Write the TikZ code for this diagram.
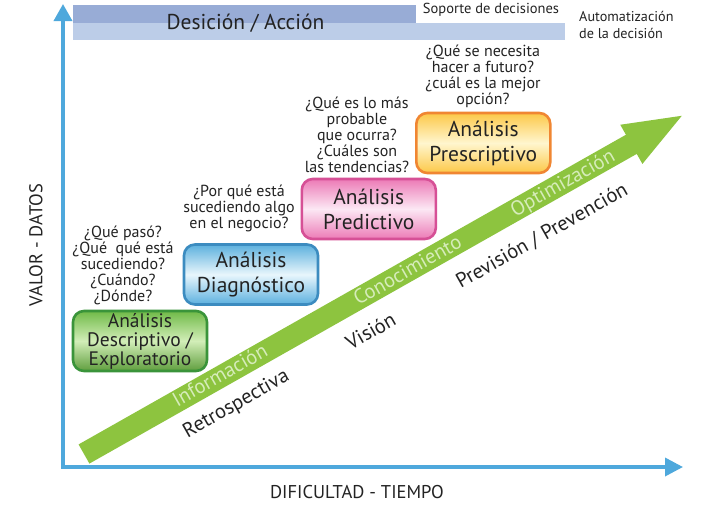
\documentclass[tikz,border=0pt]{standalone}
\usepackage{fontspec}
\setmainfont{PT Sans}
\usetikzlibrary{arrows.meta}
\definecolor{axisblue}{RGB}{78,168,220}
\definecolor{bardark}{RGB}{152,172,214}
\definecolor{barlight}{RGB}{188,205,232}
\definecolor{bandgreen}{RGB}{141,196,63}
\definecolor{bandtext}{RGB}{214,236,186}
\definecolor{txt}{RGB}{35,35,35}
\definecolor{gB}{RGB}{58,148,58}\definecolor{gT}{RGB}{112,186,72}\definecolor{gM}{RGB}{210,238,184}
\definecolor{bB}{RGB}{60,140,192}\definecolor{bT}{RGB}{92,176,222}\definecolor{bM}{RGB}{232,246,252}
\definecolor{pB}{RGB}{214,80,150}\definecolor{pT}{RGB}{236,122,182}\definecolor{pM}{RGB}{252,232,244}
\definecolor{oB}{RGB}{240,134,50}\definecolor{oT}{RGB}{252,200,72}\definecolor{oM}{RGB}{255,246,206}
\begin{document}
\begin{tikzpicture}[x=1pt,y=-1pt,
  anbox/.style={draw, line width=2.6pt, rounded corners=11pt, minimum width=134pt,
    minimum height=60pt, align=center, inner sep=0pt, text=txt},
  boxtwo/.style={anbox, font=\fontsize{21.5}{25}\selectfont},
  boxthree/.style={anbox, font=\fontsize{19.5}{19}\selectfont},
  question/.style={align=center, text=txt, font=\fontsize{16}{16}\selectfont, inner sep=0pt},
  axisline/.style={draw=axisblue, line width=3.5pt, {Triangle[length=17pt,width=18pt]}-{Triangle[length=18pt,width=18pt]}},
  bandlabel/.style={text=bandtext, font=\fontsize{20.5}{20.5}\selectfont, rotate=29.5, inner sep=0pt},
  blacklabel/.style={text=txt, font=\fontsize{20.5}{20.5}\selectfont, rotate=29.5, inner sep=0pt},
  axislabel/.style={text=txt, font=\fontsize{18.5}{18.5}\selectfont, inner sep=0pt}
]
\useasboundingbox (0,0) rectangle (712,506);
\fill[white] (0,0) rectangle (712,506);

% top bars
\fill[bardark] (73,5) rectangle (416,22.7);
\fill[barlight] (73,22.7) rectangle (565,40);
\node[text=txt, font=\fontsize{21.5}{21.5}\selectfont, inner sep=0pt] (dec) at (245.5,23) {Desición / Acción};
\node[text=txt, font=\fontsize{14.5}{14.5}\selectfont, inner sep=0pt] (sop) at (491,10) {Soporte de decisiones};
\node[text=txt, font=\fontsize{14.2}{16.5}\selectfont, align=left, inner sep=0pt, anchor=west] (auto) at (579,25) {Automatización\\de la decisión};

% axes
\coordinate (ytop) at (63,4);
\coordinate (O) at (63,467);
\coordinate (xend) at (683,467);
\draw[axisline, line join=miter] (ytop) -- (O) -- (xend);
\node[axislabel, rotate=90] (vlab) at (36,245) {VALOR - DATOS};
\node[axislabel] (hlab) at (357,492) {DIFICULTAD - TIEMPO};

% green arrow
\begin{scope}[shift={(84,454)}, rotate=29.5]
  \fill[bandgreen] (0,-11) -- (628.9,-11) -- (628.9,-22.5) -- (686.9,0)
     -- (628.9,22.5) -- (628.9,11) -- (0,11) -- cycle;
  \node[bandlabel] (inf) at (157,-2) {Información};
  \node[bandlabel] (con) at (372,-1) {Conocimiento};
  \node[bandlabel] (opt) at (550,1) {Optimización};
  \node[blacklabel] (ret) at (157,32) {Retrospectiva};
  \node[blacklabel] (vis) at (310,34) {Visión};
  \node[blacklabel] (pre) at (506,36) {Previsión / Prevención};
\end{scope}

% boxes
\node[boxthree, draw=gB, top color=gT, bottom color=gT!85!black, middle color=gM] (desc) at (140,341)
  {Análisis\\Descriptivo /\\Exploratorio};
\node[boxtwo, draw=bB, top color=bT, bottom color=bT, middle color=bM] (diag) at (251,274.5)
  {Análisis\\Diagnóstico};
\node[boxtwo, draw=pB, top color=pT, bottom color=pT, middle color=pM] (pred) at (368.8,209)
  {Análisis\\Predictivo};
\node[boxtwo, draw=oB, top color=oT, bottom color=oT, middle color=oM] (pres) at (483.3,143)
  {Análisis\\Prescriptivo};

% questions
\node[question] (q1) at (123,265) {¿Qué pasó?\\¿Qué~ qué está\\sucediendo?\\¿Cuándo?\\¿Dónde?};
\node[question] (q2) at (239,208) {¿Por qué está\\sucediendo algo\\en el negocio?};
\node[question] (q3) at (357,134.5) {¿Qué es lo más\\probable\\que ocurra?\\¿Cuáles son\\las tendencias?};
\node[question] (q4) at (483,76) {¿Qué se necesita\\hacer a futuro?\\¿cuál es la mejor\\opción?};
\end{tikzpicture}
\end{document}
